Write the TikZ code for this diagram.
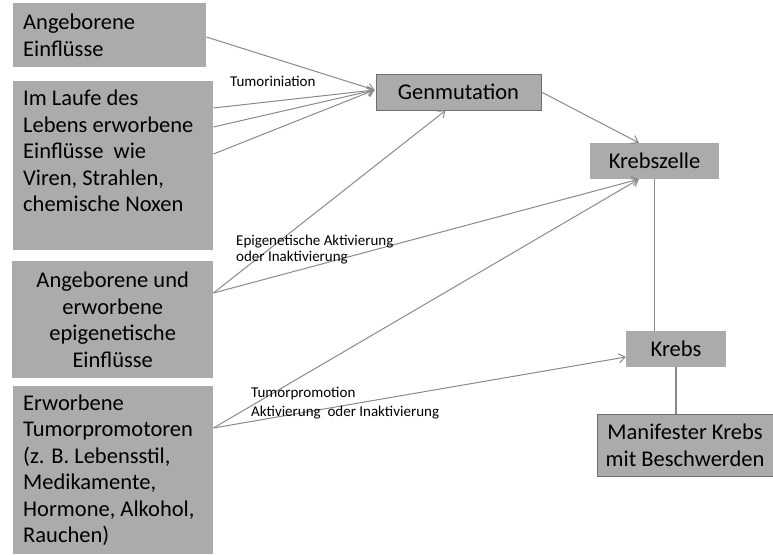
\documentclass[tikz,border=0pt]{standalone}
\usepackage{fontspec}
\setmainfont{Carlito}
\usetikzlibrary{arrows.meta,calc}
\definecolor{boxgray}{HTML}{ABABAB}
\definecolor{linegray}{HTML}{8A8A8A}
\definecolor{edgegray}{HTML}{6E6E6E}
\tikzset{
  srcbox/.style={fill=boxgray, inner sep=0pt, anchor=north west, font=\fontsize{22.5}{26.5}\selectfont},
  midbox/.style={fill=boxgray, inner sep=0pt, font=\fontsize{22.5}{27}\selectfont, align=center},
  framed/.style={draw=edgegray, line width=0.8pt},
  conn/.style={draw=linegray, line width=1pt, -{Straight Barb[length=6pt,width=9pt]}},
  plain/.style={draw=linegray, line width=1.2pt},
  lbl/.style={anchor=west, inner sep=0pt, font=\fontsize{15}{15}\selectfont}
}
\begin{document}
\begin{tikzpicture}[x=1pt,y=-1pt]
\useasboundingbox (0,0) rectangle (773,554);
% source boxes
\node[srcbox] (a1) at (13,3)
  {\hspace*{10pt}\parbox[c][64pt][c]{183pt}{\raggedright Angeborene\\Einflüsse}};
\node[srcbox] (a2) at (13,81)
  {\hspace*{10pt}\parbox[c][169pt][t]{190pt}{\vspace*{9pt}\raggedright Im Laufe des\\Lebens erworbene\\Einflüsse\ \ wie\\Viren, Strahlen,\\chemische Noxen}};
\node[srcbox] (a3) at (12,261)
  {\parbox[c][117pt][c]{201pt}{\centering Angeborene und\\erworbene\\epigenetische\\Einflüsse}};
\node[srcbox] (a4) at (13,386)
  {\hspace*{10pt}\parbox[c][168pt][c]{190pt}{\raggedright Erworbene\\Tumorpromotoren\\(z. B. Lebensstil,\\Medikamente,\\Hormone, Alkohol,\\Rauchen)}};
% middle / right boxes
\node[midbox, framed, minimum width=165, minimum height=36] (gen) at (458.5,92) {Genmutation};
\node[midbox, minimum width=129, minimum height=36] (kz) at (654.5,161) {Krebszelle};
\node[midbox, minimum width=100, minimum height=36] (krebs) at (676,349) {Krebs};
\node[midbox, framed, minimum width=176, minimum height=62] (man) at (685,445) {Manifester Krebs\\mit Beschwerden};
% anchor coordinates
\coordinate (genin) at ($(gen.west)+(-1,-2)$);
\coordinate (genbot) at ($(gen.south west)+(70,0)$);
\coordinate (kztop) at ($(kz.north west)+(49,0)$);
\coordinate (kzbot) at ($(kz.south west)+(49,0)$);
\coordinate (krebsin) at ($(krebs.west)+(0,8)$);
\coordinate (a1out) at ($(a1.north east)+(0,34)$);
\coordinate (a2o1) at ($(a2.north east)+(0,27)$);
\coordinate (a2o2) at ($(a2.north east)+(0,46)$);
\coordinate (a2o3) at ($(a2.north east)+(0,73)$);
\coordinate (a3out) at ($(a3.north east)+(0,32)$);
\coordinate (a4out) at ($(a4.north east)+(0,42)$);
% connectors
\draw[conn] (a1out) -- (genin);
\draw[conn] (a2o1) -- (genin);
\draw[conn] (a2o2) -- (genin);
\draw[conn] (a2o3) -- (genin);
\draw[conn] (a3out) -- (genbot);
\draw[conn] (a3out) -- (kzbot);
\draw[conn] (a4out) -- (kzbot);
\draw[conn] (a4out) -- (krebsin);
\draw[conn] (gen.east) -- (kztop);
\draw[plain] (kz.south) -- (kz.south |- krebs.north);
\draw[plain] (krebs.south) -- (krebs.south |- man.north);
% labels
\node[lbl] (l1) at (230,81) {Tumoriniation};
\node[lbl] (l2) at (236,242) {Epigenetische Aktivierung};
\node[lbl] (l3) at (236,258) {oder Inaktivierung};
\node[lbl] (l4) at (251,394) {Tumorpromotion};
\node[lbl] (l5) at (251,413) {Aktivierung\ \ oder Inaktivierung};
\end{tikzpicture}
\end{document}
